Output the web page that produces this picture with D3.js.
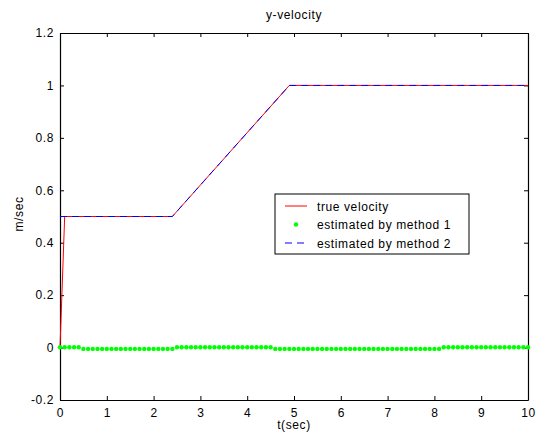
<!DOCTYPE html>
<html>
<head>
<meta charset="utf-8">
<script src="https://cdn.jsdelivr.net/npm/d3@7"></script>
<style>
  body { margin: 0; background: #fff; }
  text { font-family: "Liberation Sans", Arial, sans-serif; letter-spacing: 0.6px; }
</style>
</head>
<body>
<div class="canvas"></div>
<script>
// data
const xTicks = [0, 1, 2, 3, 4, 5, 6, 7, 8, 9, 10];
const yTicks = [-0.2, 0, 0.2, 0.4, 0.6, 0.8, 1, 1.2];

const trueTime = [0, 0.1, 2.4, 4.9, 10];
const trueVel = [0, 0.5, 0.5, 1.0, 1.0];

const m2Time = [0, 2.4, 4.9, 10];
const m2Vel = [0.5, 0.5, 1.0, 1.0];

// method 1 samples every 0.1 s
const m1Step = 0.1;
const m1Vel = [
  0.001, 0.001, 0.001, 0.001, 0.001, -0.005, -0.005, -0.005, -0.005, -0.005,
  -0.005, -0.005, -0.005, -0.005, -0.005, -0.005, -0.005, -0.005, -0.005, -0.005,
  -0.005, -0.005, -0.005, -0.005, -0.005, 0.001, 0.001, 0.001, 0.001, 0.001,
  0.001, 0.001, 0.001, 0.001, 0.001, 0.001, 0.001, 0.001, 0.001, 0.001,
  0.001, 0.001, 0.001, 0.001, 0.001, 0.001, -0.005, -0.005, -0.005, -0.005,
  -0.005, -0.005, -0.005, -0.005, -0.005, -0.005, -0.005, -0.005, -0.005, -0.005,
  -0.005, -0.005, -0.005, -0.005, -0.005, -0.005, -0.005, -0.005, -0.005, -0.005,
  -0.005, -0.005, -0.005, -0.005, -0.005, -0.005, -0.005, -0.005, -0.005, -0.005,
  -0.005, -0.005, 0.001, 0.001, 0.001, 0.001, 0.001, 0.001, 0.001, 0.001,
  0.001, 0.001, 0.001, 0.001, 0.001, 0.001, 0.001, 0.001, 0.001, 0.001,
  0.001
];

const legendLabels = ["true velocity", "estimated by method 1", "estimated by method 2"];

const margin = { top: 33, right: 11, bottom: 41, left: 60 };
const graphWidth = 539 - margin.left - margin.right;
const graphHeight = 441 - margin.top - margin.bottom;

const svg = d3
  .select(".canvas")
  .append("svg")
  .attr("width", 539)
  .attr("height", 441);

const graph = svg
  .append("g")
  .attr("transform", `translate(${margin.left}, ${margin.top})`);

// scales
const x = d3.scaleLinear().domain([0, 10]).range([0, graphWidth]);
const y = d3.scaleLinear().domain([-0.2, 1.2]).range([graphHeight, 0]);

// axes (ticks pointing inward, on all four sides)
const fmt = (d) => String(d);
graph
  .append("g")
  .attr("transform", `translate(0, ${graphHeight})`)
  .call(d3.axisBottom(x).tickValues(xTicks).tickFormat(fmt).tickSizeInner(-4).tickSizeOuter(0).tickPadding(8));
graph
  .append("g")
  .call(d3.axisTop(x).tickValues(xTicks).tickFormat("").tickSizeInner(-4).tickSizeOuter(0));
graph
  .append("g")
  .call(d3.axisLeft(y).tickValues(yTicks).tickFormat(fmt).tickSizeInner(-4).tickSizeOuter(0).tickPadding(6));
graph
  .append("g")
  .attr("transform", `translate(${graphWidth}, 0)`)
  .call(d3.axisRight(y).tickValues(yTicks).tickFormat("").tickSizeInner(-4).tickSizeOuter(0));

graph.selectAll(".domain").attr("stroke", "#000").attr("stroke-width", 1.2);
graph.selectAll(".tick line").attr("stroke", "#000");
graph.selectAll(".tick text").attr("font-size", 12).attr("fill", "#000");

// line generator
const line = d3
  .line()
  .x((d) => x(d[0]))
  .y((d) => y(d[1]));

// true velocity
graph
  .append("path")
  .datum(trueTime.map((t, i) => [t, trueVel[i]]))
  .attr("fill", "none")
  .attr("stroke", "#ff0000")
  .attr("stroke-width", 1)
  .attr("d", line);

// method 1 dots
graph
  .selectAll("circle.m1")
  .data(m1Vel)
  .enter()
  .append("circle")
  .attr("class", "m1")
  .attr("cx", (d, i) => x(i * m1Step))
  .attr("cy", (d) => y(d))
  .attr("r", 2.2)
  .attr("fill", "#00ff00");

// method 2 dashed
graph
  .append("path")
  .datum(m2Time.map((t, i) => [t, m2Vel[i]]))
  .attr("fill", "none")
  .attr("stroke", "#0000ff")
  .attr("stroke-width", 1)
  .attr("stroke-dasharray", "7,5")
  .attr("d", line);

// title and labels
svg.append("text")
  .attr("x", margin.left + graphWidth / 2)
  .attr("y", 19)
  .attr("text-anchor", "middle")
  .attr("font-size", 12)
  .text("y-velocity");

svg.append("text")
  .attr("x", margin.left + graphWidth / 2)
  .attr("y", 429)
  .attr("text-anchor", "middle")
  .attr("font-size", 12)
  .text("t(sec)");

svg.append("text")
  .attr("transform", "translate(23, 214) rotate(-90)")
  .attr("text-anchor", "middle")
  .attr("font-size", 12)
  .text("m/sec");

// legend
const legend = svg.append("g").attr("transform", "translate(275, 194)");
legend.append("rect")
  .attr("width", 194)
  .attr("height", 60)
  .attr("fill", "#fff")
  .attr("stroke", "#000")
  .attr("stroke-width", 1);

const rows = legend
  .selectAll("g.row")
  .data(legendLabels)
  .enter()
  .append("g")
  .attr("class", "row")
  .attr("transform", (d, i) => `translate(0, ${12 + i * 18.5})`);

rows.append("text")
  .attr("x", 42)
  .attr("y", 4.5)
  .attr("font-size", 12)
  .text((d) => d);

rows.filter((d, i) => i === 0).append("line")
  .attr("x1", 10).attr("x2", 32)
  .attr("stroke", "#ff0000");
rows.filter((d, i) => i === 1).append("circle")
  .attr("cx", 21).attr("r", 2.2)
  .attr("fill", "#00ff00");
rows.filter((d, i) => i === 2).append("line")
  .attr("x1", 10).attr("x2", 32)
  .attr("stroke", "#0000ff")
  .attr("stroke-dasharray", "7,5");
</script>
</body>
</html>
